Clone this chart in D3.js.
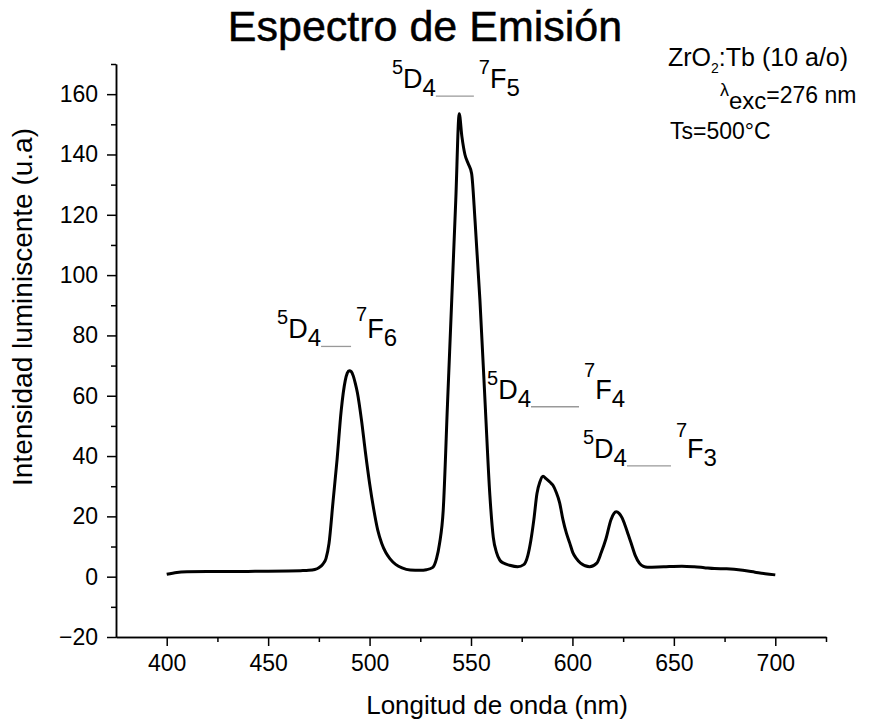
<!DOCTYPE html>
<html lang="es">
<head>
  <meta charset="UTF-8">
  <script src="https://d3js.org/d3.v7.min.js"></script>
  <title>Espectro de Emisión</title>
  <style>
    body { margin: 0; background: #fff; }
    svg text { font-family: Arial, "Liberation Sans", sans-serif; fill: #000; }
    .axis path, .axis line { stroke: #000; stroke-width: 1.5px; }
    .axis text { font-size: 23px; }
  </style>
</head>
<body>
  <svg id="chart" width="871" height="723"></svg>

  <script>
    // wavelength (nm) and intensity (u.a)
    const wavelength = [400,405,410,420,430,440,450,460,466,470,473,475,477,478.5,480,482,484,486,488,489,
      490,491,492,493,494,496,498,500,502,504,506,508,510,513,516,520,525,528,531,533,534.5,
      536.3,538.4,540.5,542.5,544.2,545.5,547,548.6,550.3,552,554.4,557,559.3,561,562.6,564.2,566,569,573,576,
      578,579.5,581,582.5,584,585.5,587,589,590.4,592,593.7,595.3,597,598.6,600.2,602,604,608.5,612,614.2,
      616.5,619,620.5,621.6,623,624.5,625.7,627.5,629,631,633,635,637,645,654,660,665,670,676,684,690,695,700];
    const intensity = [0.8,1.4,1.6,1.7,1.7,1.75,1.8,1.9,2.0,2.1,2.4,3.0,4.2,6,11,25,39,55,65,67.5,
      68.3,68,66.5,64,61,52,41,31,22.5,15.5,11,8,6,4,2.9,2.2,2.1,2.3,3,6,11,
      22,57,91.7,125,153.5,146,140,137,133.7,118,91.7,57,27,13,8,5.5,4.5,3.8,3.3,4,
      7,12,19,27.5,31.5,33.3,32.5,31.3,30.3,28,24.5,19,14.5,11.3,8,6,4.5,3.3,4.5,8,
      12.5,18.9,21,21.5,21,19.5,17.5,14,11,7,4.5,3.4,3.1,3.3,3.5,3.3,3.0,2.7,2.6,2.1,1.5,1.0,0.6];

    const xTicks = [400, 450, 500, 550, 600, 650, 700];
    const xMinor = [425, 475, 525, 575, 625, 675, 725];
    const yTicks = [-20, 0, 20, 40, 60, 80, 100, 120, 140, 160];
    const yMinor = [-10, 10, 30, 50, 70, 90, 110, 130, 150, 170];

    // transition labels: lower level, anchor in data units
    const transitions = ["7F6", "7F5", "7F4", "7F3"];
    const labelAt = [[454.4, 79], [511, 162], [557.9, 59], [605.2, 39.4]];
    const gapPx = [30, 38, 48, 44];
    const supRaise = [3, 0, 8, 7];

    const width = 871, height = 723;
    const margin = {top: 64, right: 45, bottom: 86, left: 116};

    const svg = d3.select("#chart");

    const x = d3.scaleLinear().domain([375, 725]).range([margin.left, width - margin.right]);
    const y = d3.scaleLinear().domain([-20, 170]).range([height - margin.bottom, margin.top]);

    // minor ticks first, then major ticks with labels
    svg.append("g").attr("class", "axis")
      .attr("transform", `translate(0,${height - margin.bottom})`)
      .call(d3.axisBottom(x).tickValues(xMinor).tickSize(5).tickSizeOuter(0).tickFormat(""));
    svg.append("g").attr("class", "axis")
      .attr("transform", `translate(0,${height - margin.bottom})`)
      .call(d3.axisBottom(x).tickValues(xTicks).tickSize(9).tickSizeOuter(0).tickPadding(9));

    svg.append("g").attr("class", "axis")
      .attr("transform", `translate(${margin.left},0)`)
      .call(d3.axisLeft(y).tickValues(yMinor).tickSize(5).tickSizeOuter(0).tickFormat(""));
    svg.append("g").attr("class", "axis")
      .attr("transform", `translate(${margin.left},0)`)
      .call(d3.axisLeft(y).tickValues(yTicks).tickSize(9).tickSizeOuter(0).tickPadding(9));

    // spectrum
    const line = d3.line()
      .x((d, i) => x(wavelength[i]))
      .y(d => y(d))
      .curve(d3.curveMonotoneX);

    svg.append("path")
      .datum(intensity)
      .attr("fill", "none")
      .attr("stroke", "#000")
      .attr("stroke-width", 3)
      .attr("stroke-linejoin", "round")
      .attr("d", line);

    // title and axis titles
    svg.append("text")
      .attr("x", 425).attr("y", 41)
      .attr("text-anchor", "middle")
      .style("font-size", "43px")
      .style("stroke", "#000").style("stroke-width", 0.5)
      .text("Espectro de Emisión");

    svg.append("text")
      .attr("x", 497).attr("y", 714)
      .attr("text-anchor", "middle")
      .style("font-size", "26px")
      .text("Longitud de onda (nm)");

    svg.append("text")
      .attr("transform", `translate(32,307) rotate(-90)`)
      .attr("text-anchor", "middle")
      .style("font-size", "28px")
      .text("Intensidad luminiscente (u.a)");

    // sample notes, top right
    const n1 = svg.append("text").attr("x", 668).attr("y", 66).style("font-size", "25px");
    n1.append("tspan").text("ZrO");
    n1.append("tspan").attr("dy", 7).style("font-size", "14px").text("2");
    n1.append("tspan").attr("dy", -7).text(":Tb (10 a/o)");

    const n2 = svg.append("text").attr("x", 720).attr("y", 103).style("font-size", "23px");
    n2.append("tspan").style("font-size", "18px").attr("dy", -7).text("λ");
    n2.append("tspan").attr("dy", 13).style("font-size", "24px").text("exc");
    n2.append("tspan").attr("dy", -6).text("=276 nm");

    svg.append("text").attr("x", 670).attr("y", 139).style("font-size", "23px").text("Ts=500°C");

    // transition labels 5D4 —— 7Fn
    transitions.forEach((t, i) => {
      const x0 = x(labelAt[i][0]), y0 = y(labelAt[i][1]);
      const g = svg.append("g");
      const left = g.append("text").attr("x", x0).attr("y", y0).style("font-size", "27px");
      left.append("tspan").attr("dy", -14).style("font-size", "20px").text("5");
      left.append("tspan").attr("dy", 14).text("D");
      left.append("tspan").attr("dy", 8).style("font-size", "24px").text("4");
      const w = left.node().getComputedTextLength();

      g.append("line")
        .attr("x1", x0 + w).attr("x2", x0 + w + gapPx[i])
        .attr("y1", y0 + 8).attr("y2", y0 + 8)
        .attr("stroke", "#999").attr("stroke-width", 1.3);

      const right = g.append("text").attr("x", x0 + w + gapPx[i] + 5).attr("y", y0).style("font-size", "27px");
      right.append("tspan").attr("dy", -14 - supRaise[i]).style("font-size", "20px").text(t[0]);
      right.append("tspan").attr("dy", 14 + supRaise[i]).text(t[1]);
      right.append("tspan").attr("dy", 8).style("font-size", "24px").text(t[2]);
    });
  </script>
</body>
</html>
